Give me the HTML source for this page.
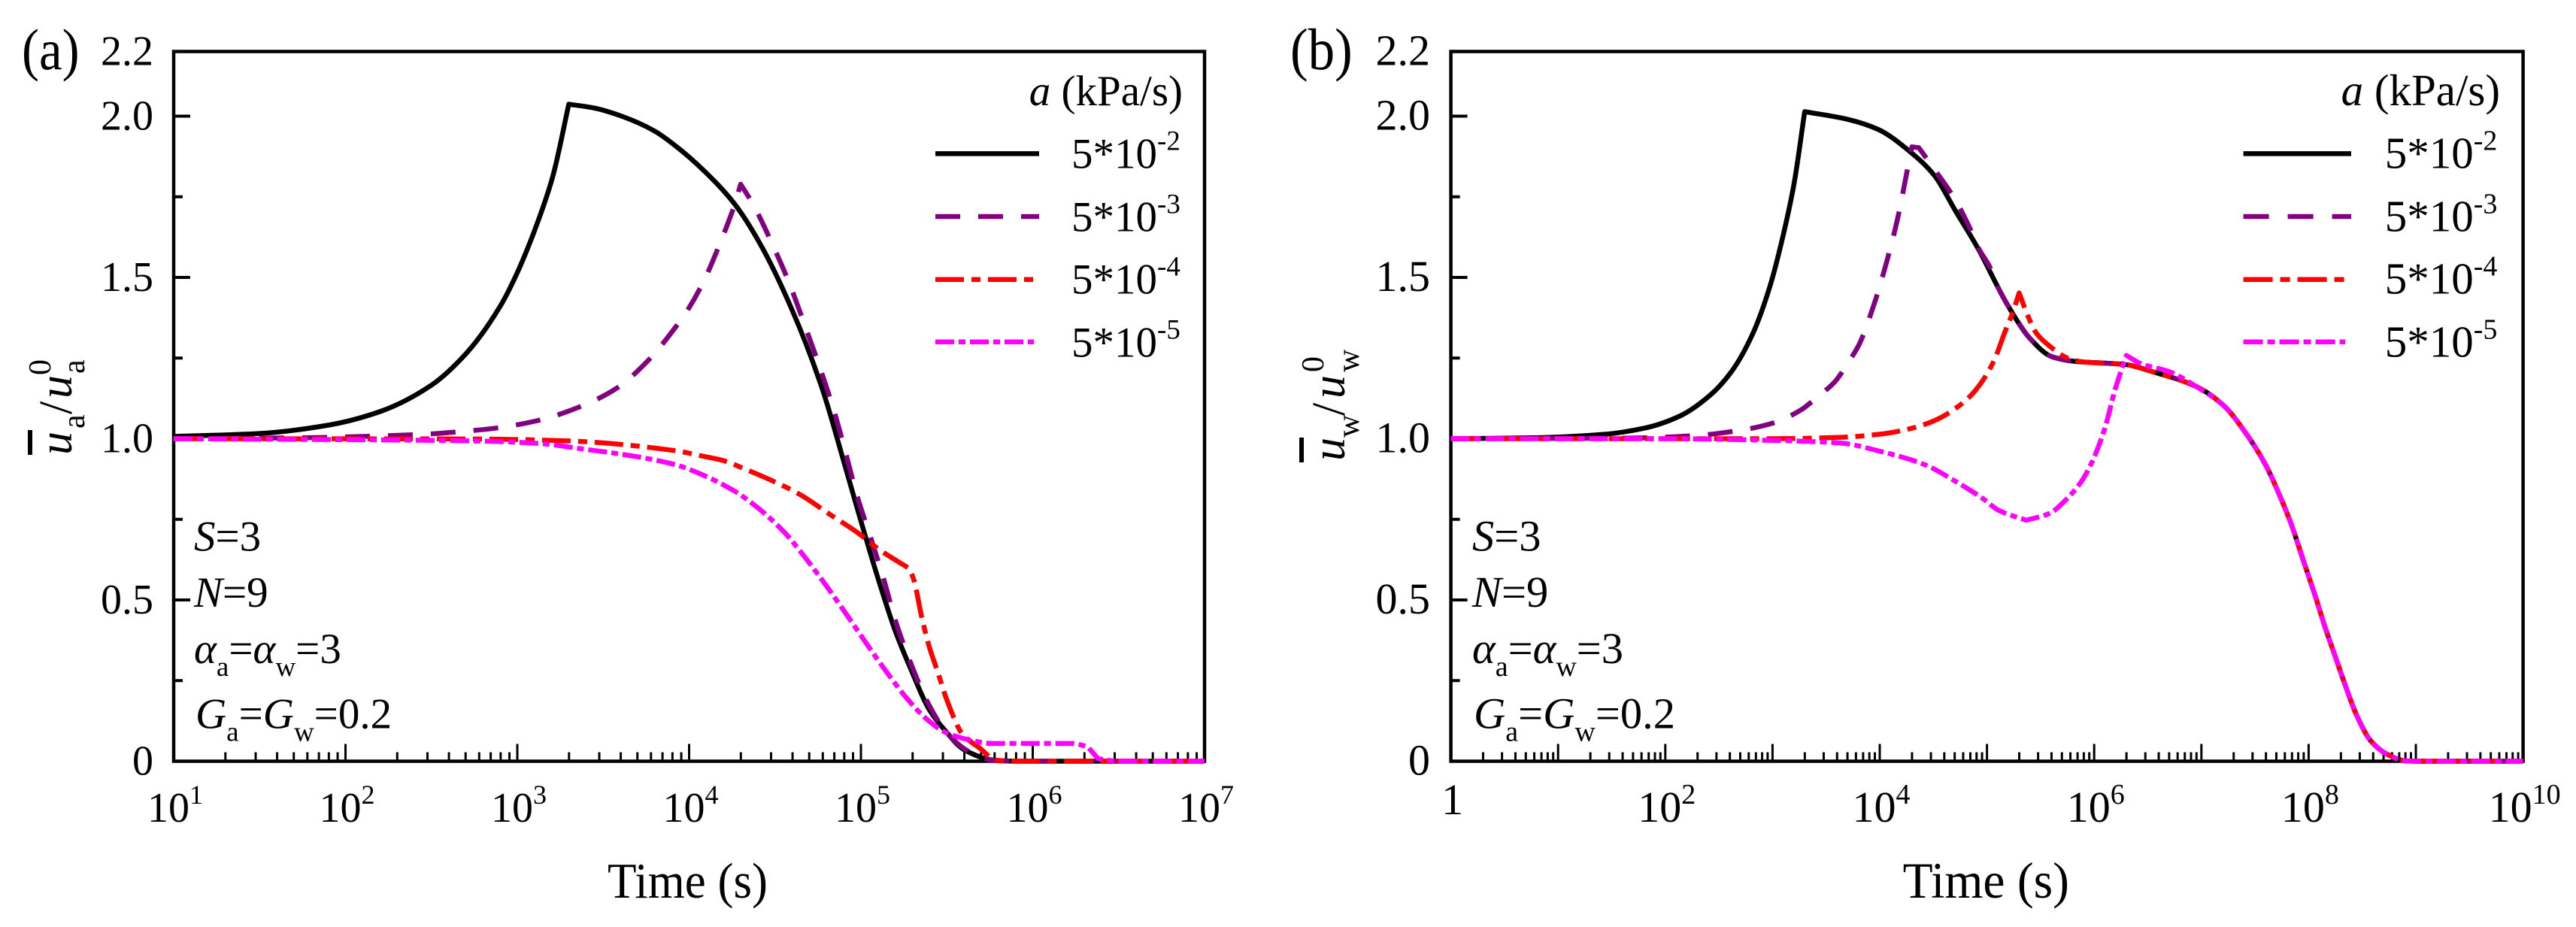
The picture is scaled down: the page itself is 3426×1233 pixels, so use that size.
<!DOCTYPE html>
<html lang="en">
<head>
<meta charset="utf-8">
<title>Excess pore pressure dissipation curves</title>
<style>
html,body{margin:0;padding:0;background:#fff;}
svg{display:block;}
text{font-family:"Liberation Serif","DejaVu Serif",serif;fill:#000;}
.i{font-style:italic;}
</style>
</head>
<body>
<svg id="figure" xmlns="http://www.w3.org/2000/svg" width="3426" height="1233" viewBox="0 0 3426 1233">
  <rect x="0" y="0" width="3426" height="1233" fill="#fff"/>

  <g id="panel-a">
    <text transform="translate(29,92) scale(1,1.12)" font-size="69">(a)</text>
    <g id="panel-a-axes"></g>
    <g id="panel-a-curves"></g>
    <g transform="translate(95,605) rotate(-90)">
      <text class="i" x="0" y="0" font-size="62">u</text>
      <text x="35" y="17" font-size="42">a</text>
      <text x="54" y="0" font-size="62">/</text>
      <text class="i" x="75" y="0" font-size="62">u</text>
      <text x="108" y="17" font-size="42">a</text>
      <text x="106" y="-28" font-size="42">0</text>
    </g>
    <rect x="37" y="572" width="6" height="33" fill="#000"/>
    <text transform="translate(808,1194) scale(1,1.06)" font-size="63">Time (s)</text>
    <g font-size="57">
      <text x="1573" y="140" text-anchor="end"><tspan class="i">a</tspan> (kPa/s)</text>
      <line x1="1244" x2="1382" y1="204.4" y2="204.4" stroke="#000" stroke-width="6.5"/>
      <line x1="1244" x2="1382" y1="288" y2="288" stroke="#800080" stroke-width="6.5" stroke-dasharray="33 24"/>
      <line x1="1244" x2="1375" y1="371.7" y2="371.7" stroke="#ff0000" stroke-width="6.5" stroke-dasharray="38 10 12 10"/>
      <line x1="1244" x2="1375" y1="454.7" y2="454.7" stroke="#ff00ff" stroke-width="6.5" stroke-dasharray="25 6 9 6"/>
      <text x="1425" y="223.4">5*10<tspan font-size="37" dy="-24">-2</tspan></text>
      <text x="1425" y="307.6">5*10<tspan font-size="37" dy="-24">-3</tspan></text>
      <text x="1425" y="390.7">5*10<tspan font-size="37" dy="-24">-4</tspan></text>
      <text x="1425" y="474.5">5*10<tspan font-size="37" dy="-24">-5</tspan></text>
    </g>
    <g font-size="57">
      <text x="258" y="732.6"><tspan class="i">S</tspan>=3</text>
      <text x="258" y="807"><tspan class="i">N</tspan>=9</text>
      <text x="258" y="882"><tspan class="i">α</tspan><tspan font-size="37" dy="17">a</tspan><tspan dy="-17">=</tspan><tspan class="i">α</tspan><tspan font-size="37" dy="17">w</tspan><tspan dy="-17">=3</tspan></text>
      <text x="260" y="968.7"><tspan class="i">G</tspan><tspan font-size="37" dy="17">a</tspan><tspan dy="-17">=</tspan><tspan class="i">G</tspan><tspan font-size="37" dy="17">w</tspan><tspan dy="-17">=0.2</tspan></text>
    </g>
  </g>

  <g id="panel-b">
    <text transform="translate(1716,92) scale(1,1.1)" font-size="71">(b)</text>
    <g id="panel-b-axes"></g>
    <g id="panel-b-curves"></g>
    <g transform="translate(1788,615) rotate(-90)">
      <text class="i" x="2" y="0" font-size="62">u</text>
      <text x="33" y="19" font-size="42">w</text>
      <text x="62" y="0" font-size="62">/</text>
      <text class="i" x="85" y="0" font-size="62">u</text>
      <text x="120" y="19" font-size="42">w</text>
      <text x="120" y="-28" font-size="42">0</text>
    </g>
    <rect x="1728" y="582" width="6" height="33" fill="#000"/>
    <text transform="translate(2530.6,1194) scale(1,1.04)" font-size="65.5">Time (s)</text>
    <g font-size="59">
      <text x="3325" y="140" text-anchor="end"><tspan class="i">a</tspan> (kPa/s)</text>
      <line x1="2983.6" x2="3127" y1="204.4" y2="204.4" stroke="#000" stroke-width="6.5"/>
      <line x1="2983.6" x2="3127" y1="288" y2="288" stroke="#800080" stroke-width="6.5" stroke-dasharray="34 25"/>
      <line x1="2983.6" x2="3119" y1="371.7" y2="371.7" stroke="#ff0000" stroke-width="6.5" stroke-dasharray="39 10 13 10"/>
      <line x1="2983.6" x2="3119" y1="454.7" y2="454.7" stroke="#ff00ff" stroke-width="6.5" stroke-dasharray="26 6 10 6"/>
      <text x="3171.7" y="223.4">5*10<tspan font-size="38" dy="-24">-2</tspan></text>
      <text x="3171.7" y="307.6">5*10<tspan font-size="38" dy="-24">-3</tspan></text>
      <text x="3171.7" y="390.7">5*10<tspan font-size="38" dy="-24">-4</tspan></text>
      <text x="3171.7" y="474.5">5*10<tspan font-size="38" dy="-24">-5</tspan></text>
    </g>
    <g font-size="58.5">
      <text x="1958" y="732.6"><tspan class="i">S</tspan>=3</text>
      <text x="1958" y="807"><tspan class="i">N</tspan>=9</text>
      <text x="1958" y="882"><tspan class="i">α</tspan><tspan font-size="38" dy="17">a</tspan><tspan dy="-17">=</tspan><tspan class="i">α</tspan><tspan font-size="38" dy="17">w</tspan><tspan dy="-17">=3</tspan></text>
      <text x="1960" y="968.7"><tspan class="i">G</tspan><tspan font-size="38" dy="17">a</tspan><tspan dy="-17">=</tspan><tspan class="i">G</tspan><tspan font-size="38" dy="17">w</tspan><tspan dy="-17">=0.2</tspan></text>
    </g>
  </g>
</svg>

<script>
// Axis values
const yMajorTicks = [0, 0.5, 1, 1.5, 2];
const yMinorTicks = [0.25, 0.75, 1.25, 1.75];
const yLabeledTicks = ["0", "0.5", "1.0", "1.5", "2.0", "2.2"];
const aXExponents = [1, 2, 3, 4, 5, 6, 7];
const bXDecades = [0, 1, 2, 3, 4, 5, 6, 7, 8, 9, 10];
const bXExponents = [0, 2, 4, 6, 8, 10];

// Panel (a): log10(time in s) and normalised pressure for each loading rate
const aBlackLogT = [1, 1.496, 1.9, 2.2, 2.5, 2.7, 2.9, 3.0, 3.1, 3.205, 3.3, 3.45, 3.607, 3.795, 3.928, 4.084, 4.263, 4.408, 4.598, 4.776, 4.904, 4.977, 5.088, 5.2, 5.29, 5.4, 5.49, 5.6, 5.78, 5.94, 7];
const aBlackVal = [1.007, 1.016, 1.042, 1.084, 1.166, 1.263, 1.41, 1.515, 1.645, 1.81, 2.037, 2.025, 2.0, 1.955, 1.905, 1.832, 1.729, 1.609, 1.401, 1.153, 0.922, 0.787, 0.587, 0.404, 0.286, 0.158, 0.095, 0.036, 0.003, 0, 0];
const aPurpleLogT = [1, 1.75, 2.5, 2.627, 2.878, 3.117, 3.355, 3.58, 3.757, 3.92, 3.995, 4.06, 4.117, 4.164, 4.22, 4.267, 4.3, 4.375, 4.487, 4.588, 4.677, 4.766, 4.845, 4.912, 4.977, 5.055, 5.133, 5.2, 5.29, 5.39, 5.49, 5.625, 5.78, 5.9, 7];
const aPurpleVal = [1, 1.003, 1.015, 1.02, 1.033, 1.056, 1.097, 1.157, 1.24, 1.345, 1.402, 1.462, 1.525, 1.585, 1.66, 1.729, 1.789, 1.724, 1.6, 1.475, 1.346, 1.213, 1.083, 0.955, 0.824, 0.696, 0.564, 0.437, 0.304, 0.181, 0.095, 0.031, 0.002, 0, 0];
const aRedLogT = [1, 2.75, 3.255, 3.93, 4.06, 4.207, 4.307, 4.486, 4.642, 4.82, 4.977, 5.11, 5.28, 5.307, 5.356, 5.4, 5.447, 5.5, 5.59, 5.69, 5.79, 5.9, 7];
const aRedVal = [1, 0.999, 0.994, 0.962, 0.948, 0.931, 0.91, 0.869, 0.828, 0.765, 0.71, 0.655, 0.598, 0.564, 0.442, 0.351, 0.277, 0.19, 0.085, 0.041, 0.003, 0, 0];
const aMagentaLogT = [1, 2.75, 3.13, 3.38, 3.63, 3.93, 4.06, 4.263, 4.397, 4.554, 4.688, 4.82, 4.933, 5.045, 5.156, 5.267, 5.38, 5.49, 5.625, 5.76, 6.23, 6.32, 6.38, 6.5, 7];
const aMagentaVal = [1, 0.993, 0.985, 0.968, 0.95, 0.918, 0.892, 0.838, 0.787, 0.71, 0.623, 0.528, 0.442, 0.355, 0.272, 0.195, 0.132, 0.09, 0.067, 0.055, 0.055, 0.045, 0.008, 0, 0];

// Panel (b)
const bBlackLogT = [0, 0.805, 1.41, 1.81, 2.134, 2.415, 2.617, 2.819, 2.978, 3.1, 3.2, 3.3, 3.703, 3.985, 4.267, 4.51, 4.7, 4.923, 5.108, 5.2, 5.403, 5.606, 5.81, 6.29, 6.55, 6.95, 7.21, 7.4, 7.6, 7.73, 7.84, 7.95, 8.06, 8.155, 8.25, 8.34, 8.45, 8.58, 8.73, 8.91, 9.02, 10];
const bBlackVal = [1, 1.003, 1.013, 1.033, 1.07, 1.134, 1.208, 1.328, 1.475, 1.632, 1.789, 2.014, 1.99, 1.959, 1.894, 1.816, 1.71, 1.586, 1.466, 1.41, 1.31, 1.254, 1.24, 1.23, 1.207, 1.162, 1.102, 1.024, 0.918, 0.824, 0.733, 0.623, 0.514, 0.414, 0.323, 0.237, 0.141, 0.063, 0.022, 0.001, 0, 0];
const bPurpleLogT = [0, 1.7, 2.29, 2.7, 3.0, 3.26, 3.42, 3.58, 3.703, 3.804, 3.945, 4.065, 4.167, 4.267, 4.3, 4.365, 4.51, 4.7, 4.83, 4.923, 5.03, 5.108, 5.22, 5.403, 5.606, 5.81, 6.29, 6.55, 6.95, 7.21, 7.4, 7.6, 7.73, 7.84, 7.95, 8.06, 8.155, 8.25, 8.34, 8.45, 8.58, 8.73, 8.91, 9.02, 10];
const bPurpleVal = [1, 1.002, 1.01, 1.026, 1.048, 1.088, 1.13, 1.176, 1.235, 1.29, 1.415, 1.549, 1.683, 1.85, 1.905, 1.902, 1.835, 1.743, 1.66, 1.59, 1.53, 1.466, 1.4, 1.31, 1.254, 1.24, 1.23, 1.207, 1.162, 1.102, 1.024, 0.918, 0.824, 0.733, 0.623, 0.514, 0.414, 0.323, 0.237, 0.141, 0.063, 0.022, 0.001, 0, 0];
const bRedLogT = [0, 3.0, 3.62, 4.026, 4.307, 4.51, 4.7, 4.85, 4.96, 5.07, 5.164, 5.25, 5.3, 5.385, 5.459, 5.57, 5.773, 5.9, 6.29, 6.55, 6.95, 7.21, 7.4, 7.6, 7.73, 7.84, 7.95, 8.06, 8.155, 8.25, 8.34, 8.45, 8.58, 8.73, 8.91, 9.02, 10];
const bRedVal = [1, 1, 1.004, 1.015, 1.033, 1.056, 1.092, 1.134, 1.18, 1.245, 1.328, 1.4, 1.452, 1.378, 1.328, 1.291, 1.247, 1.238, 1.23, 1.207, 1.162, 1.102, 1.024, 0.918, 0.824, 0.733, 0.623, 0.514, 0.414, 0.323, 0.237, 0.141, 0.063, 0.022, 0.001, 0, 0];
const bMagentaLogT = [0, 2.0, 2.82, 3.62, 4.026, 4.43, 4.7, 4.96, 5.108, 5.366, 5.588, 5.735, 5.884, 5.976, 6.1, 6.196, 6.3, 6.44, 6.7, 6.95, 7.21, 7.4, 7.6, 7.73, 7.84, 7.95, 8.06, 8.155, 8.25, 8.34, 8.45, 8.58, 8.73, 8.91, 9.02, 10];
const bMagentaVal = [1, 1, 0.996, 0.987, 0.959, 0.918, 0.869, 0.815, 0.778, 0.747, 0.769, 0.81, 0.869, 0.925, 1.033, 1.153, 1.258, 1.232, 1.208, 1.162, 1.102, 1.024, 0.918, 0.824, 0.733, 0.623, 0.514, 0.414, 0.323, 0.237, 0.141, 0.063, 0.022, 0.001, 0, 0];

const NS = 'http://www.w3.org/2000/svg';
const FRAME_TOP = 68.5, FRAME_BOTTOM = 1012.5;

function yScale(v) { return FRAME_BOTTOM - 429 * v; }
function xA(lg) { return 231 + (lg - 1) * 228.5; }
function xB(lg) { return 1929.6 + lg * 142.6; }

function mk(tag, attrs, parent) {
  const el = document.createElementNS(NS, tag);
  for (const k in attrs) el.setAttribute(k, attrs[k]);
  parent.appendChild(el);
  return el;
}

function drawAxes(g, xFn, decades, labelExps, left, right, panel, tickLabelSize, supSize, yLabelX) {
  const frame = mk('rect', { x: left, y: FRAME_TOP, width: right - left, height: FRAME_BOTTOM - FRAME_TOP, fill: 'none', stroke: '#000', 'stroke-width': 4.5 }, g);
  
  

  yMajorTicks.forEach(function (v) {
    const t = mk('line', { x1: left, x2: left + 22, y1: yScale(v), y2: yScale(v), stroke: '#000', 'stroke-width': 4 }, g);
    
    
  });
  yMinorTicks.forEach(function (v) {
    const t = mk('line', { x1: left, x2: left + 12, y1: yScale(v), y2: yScale(v), stroke: '#000', 'stroke-width': 4 }, g);
    
    
  });
  yLabeledTicks.forEach(function (lab) {
    const t = mk('text', { x: yLabelX, y: yScale(parseFloat(lab)) + 18, 'text-anchor': 'end', 'font-size': tickLabelSize }, g);
    
    
    t.textContent = lab;
  });

  decades.forEach(function (d, i) {
    const x = xFn(d);
    if (i > 0 && i < decades.length - 1) {
      const t = mk('line', { x1: x, x2: x, y1: FRAME_BOTTOM, y2: FRAME_BOTTOM - 23, stroke: '#000', 'stroke-width': 3 }, g);
      
      
    }
    if (i < decades.length - 1) {
      for (let k = 2; k < 10; k++) {
        const mx = xFn(d + Math.log10(k));
        const m = mk('line', { x1: mx, x2: mx, y1: FRAME_BOTTOM, y2: FRAME_BOTTOM - 12, stroke: '#000', 'stroke-width': 3 }, g);
        
        
      }
    }
  });

  labelExps.forEach(function (e) {
    const t = mk('text', { x: xFn(e) + 2, y: e === 0 ? 1083 : 1093, 'text-anchor': 'middle', 'font-size': tickLabelSize }, g);
    
    
    if (e === 0) {
      t.textContent = '1';
    } else {
      t.appendChild(document.createTextNode('10'));
      const s = mk('tspan', { 'font-size': supSize, dy: -24 }, t);
      s.textContent = String(e);
    }
  });
}

// Monotone cubic path through the data, keeping sharp corners at loading-end peaks.
function smoothPath(xs, ys) {
  const n = xs.length;
  const sec = [];
  for (let i = 0; i < n - 1; i++) sec.push((ys[i + 1] - ys[i]) / (xs[i + 1] - xs[i]));
  const mIn = new Array(n), mOut = new Array(n);
  mIn[0] = mOut[0] = sec[0];
  mIn[n - 1] = mOut[n - 1] = sec[n - 2];
  for (let i = 1; i < n - 1; i++) {
    const a = sec[i - 1], b = sec[i];
    if (Math.abs(Math.atan(a) - Math.atan(b)) > 0.6) {
      mIn[i] = a;
      mOut[i] = b;
    } else if (a * b <= 0) {
      mIn[i] = mOut[i] = 0;
    } else {
      const h0 = xs[i] - xs[i - 1], h1 = xs[i + 1] - xs[i];
      const w1 = 2 * h1 + h0, w2 = h1 + 2 * h0;
      mIn[i] = mOut[i] = (w1 + w2) / (w1 / a + w2 / b);
    }
  }
  let d = 'M' + xs[0].toFixed(1) + ' ' + ys[0].toFixed(1);
  for (let i = 0; i < n - 1; i++) {
    const h = (xs[i + 1] - xs[i]) / 3;
    d += 'C' + (xs[i] + h).toFixed(1) + ' ' + (ys[i] + mOut[i] * h).toFixed(1) + ' ' +
      (xs[i + 1] - h).toFixed(1) + ' ' + (ys[i + 1] - mIn[i + 1] * h).toFixed(1) + ' ' +
      xs[i + 1].toFixed(1) + ' ' + ys[i + 1].toFixed(1);
  }
  return d;
}

function drawCurve(g, xFn, logT, vals, color, dash, name) {
  const attrs = { d: smoothPath(logT.map(xFn), vals.map(yScale)), fill: 'none', stroke: color, 'stroke-width': 6.5, 'stroke-linejoin': 'round' };
  if (dash) attrs['stroke-dasharray'] = dash;
  const line = mk('path', attrs, g);
  
  
}

const axA = document.getElementById('panel-a-axes');
const axB = document.getElementById('panel-b-axes');
const cA = document.getElementById('panel-a-curves');
const cB = document.getElementById('panel-b-curves');

drawAxes(axA, xA, aXExponents, aXExponents, 231, 1602, 'panel-a', 56, 36, 204);
drawAxes(axB, xB, bXDecades, bXExponents, 1929.6, 3355.6, 'panel-b', 58, 38, 1902);

const DASH_PURPLE = '33 24', DASH_RED = '38 10 12 10', DASH_MAGENTA = '25 6 9 6';

drawCurve(cA, xA, aBlackLogT, aBlackVal, '#000', '', 'curve-a-5e-2');
drawCurve(cA, xA, aPurpleLogT, aPurpleVal, '#800080', DASH_PURPLE, 'curve-a-5e-3');
drawCurve(cA, xA, aRedLogT, aRedVal, '#ff0000', DASH_RED, 'curve-a-5e-4');
drawCurve(cA, xA, aMagentaLogT, aMagentaVal, '#ff00ff', DASH_MAGENTA, 'curve-a-5e-5');

drawCurve(cB, xB, bBlackLogT, bBlackVal, '#000', '', 'curve-b-5e-2');
drawCurve(cB, xB, bPurpleLogT, bPurpleVal, '#800080', DASH_PURPLE, 'curve-b-5e-3');
drawCurve(cB, xB, bRedLogT, bRedVal, '#ff0000', DASH_RED, 'curve-b-5e-4');
drawCurve(cB, xB, bMagentaLogT, bMagentaVal, '#ff00ff', DASH_MAGENTA, 'curve-b-5e-5');
</script>
</body>
</html>
